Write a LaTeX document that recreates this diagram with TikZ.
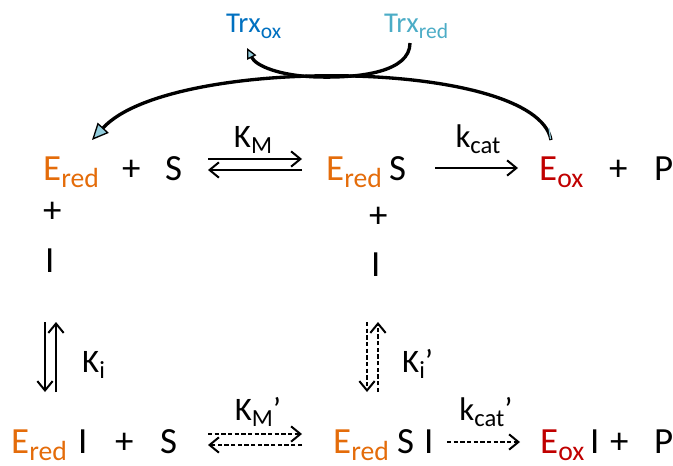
\documentclass[tikz,border=0pt]{standalone}
\usepackage{fontspec}
\setmainfont{Carlito}
\usepackage{graphicx}
\usepackage{xcolor}
\usepackage{tikz}
\usetikzlibrary{arrows.meta,positioning,calc}
\definecolor{redcol}{HTML}{E46C0A}
\definecolor{oxcol}{HTML}{C00000}
\definecolor{trxoxcol}{HTML}{0070C0}
\definecolor{trxredcol}{HTML}{4BACC6}
\definecolor{tipfill}{HTML}{93CDDD}
\newcommand{\lo}[1]{\raisebox{-0.2em}{\scalebox{0.75}{#1}}}
\newcommand{\Ered}{\textcolor{redcol}{E\lo{red}}}
\newcommand{\Eox}{\textcolor{oxcol}{E\lo{ox}}}
\tikzset{
  spec/.style={anchor=base west, inner sep=0pt, font=\fontsize{31.5}{34}\selectfont},
  konst/.style={anchor=base, inner sep=0pt, font=\fontsize{28}{32}\selectfont},
  trx/.style={anchor=base west, inner sep=0pt, font=\fontsize{24.5}{27}\selectfont},
  rxn/.style={-{Straight Barb[length=2.8mm,width=4.6mm]}, line width=0.6mm},
  slow/.style={rxn, dash pattern=on 1.3mm off 0.7mm},
  recyc/.style={-{Triangle[length=5mm,width=4.5mm,fill=tipfill,line width=0.4mm]}, line width=1mm},
  recycsmall/.style={recyc, -{Triangle[length=3.2mm,width=3mm,fill=tipfill,line width=0.4mm]}},
}

\begin{document}
\begin{tikzpicture}[x=0.3mm,y=-0.3mm]
\useasboundingbox (0,0) rectangle (673,466);

% thioredoxin couple
\node[trx, text=trxoxcol]  (trxox)  at (226,33) {Trx\lo{ox}};
\node[trx, text=trxredcol] (trxred) at (384,33) {Trx\lo{red}};

% top row: uninhibited reaction
\node[spec] (ered1) at (43,180)  {\Ered};
\node[spec] (plus1) at (122,180) {+};
\node[spec] (s1)    at (165,180) {S};
\node[spec] (ered2) at (326,180) {\Ered};
\node[spec] (s2)    at (389,180) {S};
\node[spec] (eox1)  at (539,180) {\Eox};
\node[spec] (plus2) at (609,180) {+};
\node[spec] (p1)    at (654,180) {P};

\node[konst] (km)   at (253,147) {K\lo{M}};
\node[konst] (kcat) at (478,147) {k\lo{cat}};

% inhibitor binding
\node[spec] (plus3) at (43,222)  {+};
\node[spec] (i1)    at (45,272)  {I};
\node[spec] (plus4) at (369,227) {+};
\node[spec] (i2)    at (371,276) {I};

\node[konst, anchor=base west] (ki)  at (82,372)  {K\lo{i}};
\node[konst, anchor=base west] (ki2) at (402,372) {K\lo{i}’};

% bottom row: inhibited reaction
\node[spec] (ered3) at (11,453)  {\Ered};
\node[spec] (i3)    at (78,453)  {I};
\node[spec] (plus5) at (115,453) {+};
\node[spec] (s3)    at (160,453) {S};
\node[spec] (ered4) at (333,453) {\Ered};
\node[spec] (s4)    at (397,453) {S};
\node[spec] (i4)    at (424,453) {I};
\node[spec] (eox2)  at (540,453) {\Eox};
\node[spec] (i5)    at (590,453) {I};
\node[spec] (plus6) at (610,453) {+};
\node[spec] (p2)    at (654,453) {P};

\node[konst] (km2)   at (258,420) {K\lo{M}’};
\node[konst] (kcat2) at (486,420) {k\lo{cat}’};

% arrow ends
\coordinate (kmL)  at (208,159); \coordinate (kmR)  at (302,159);
\coordinate (kmL2) at (208,170); \coordinate (kmR2) at (302,170);
\coordinate (kcL)  at (435,168); \coordinate (kcR)  at (518,168);
\coordinate (kiT)  at (45,322);  \coordinate (kiB)  at (45,392);
\coordinate (kiT2) at (56,322);  \coordinate (kiB2) at (56,392);
\coordinate (jiT)  at (367,322); \coordinate (jiB)  at (367,392);
\coordinate (jiT2) at (378,322); \coordinate (jiB2) at (378,392);
\coordinate (lmL)  at (208,434); \coordinate (lmR)  at (302,434);
\coordinate (lmL2) at (208,445); \coordinate (lmR2) at (302,445);
\coordinate (lcL)  at (447,442); \coordinate (lcR)  at (520,442);
\coordinate (tail) at (551,140); \coordinate (tip)  at (92,140);
\coordinate (ttail) at (410,43); \coordinate (tbot) at (318,77); \coordinate (ttip) at (247,48);

\draw[rxn] (kmL) -- (kmR);
\draw[rxn] (kmR2) -- (kmL2);
\draw[rxn] (kcL) -- (kcR);
\draw[rxn] (kiT) -- (kiB);
\draw[rxn] (kiB2) -- (kiT2);
\draw[slow] (jiT) -- (jiB);
\draw[slow] (jiB2) -- (jiT2);
\draw[slow] (lmL) -- (lmR);
\draw[slow] (lmR2) -- (lmL2);
\draw[slow] (lcL) -- (lcR);

% recycling by thioredoxin
\draw[recyc] (tail) .. controls (536,58) and (170,55) .. (tip);
\draw[line width=0.35mm, draw=tipfill] (550.5,139) -- (549,128);
\draw[recycsmall] (ttail) .. controls (410,72) and (360,78) .. (tbot) .. controls (280,76) and (256,66) .. (ttip);
\end{tikzpicture}
\end{document}
